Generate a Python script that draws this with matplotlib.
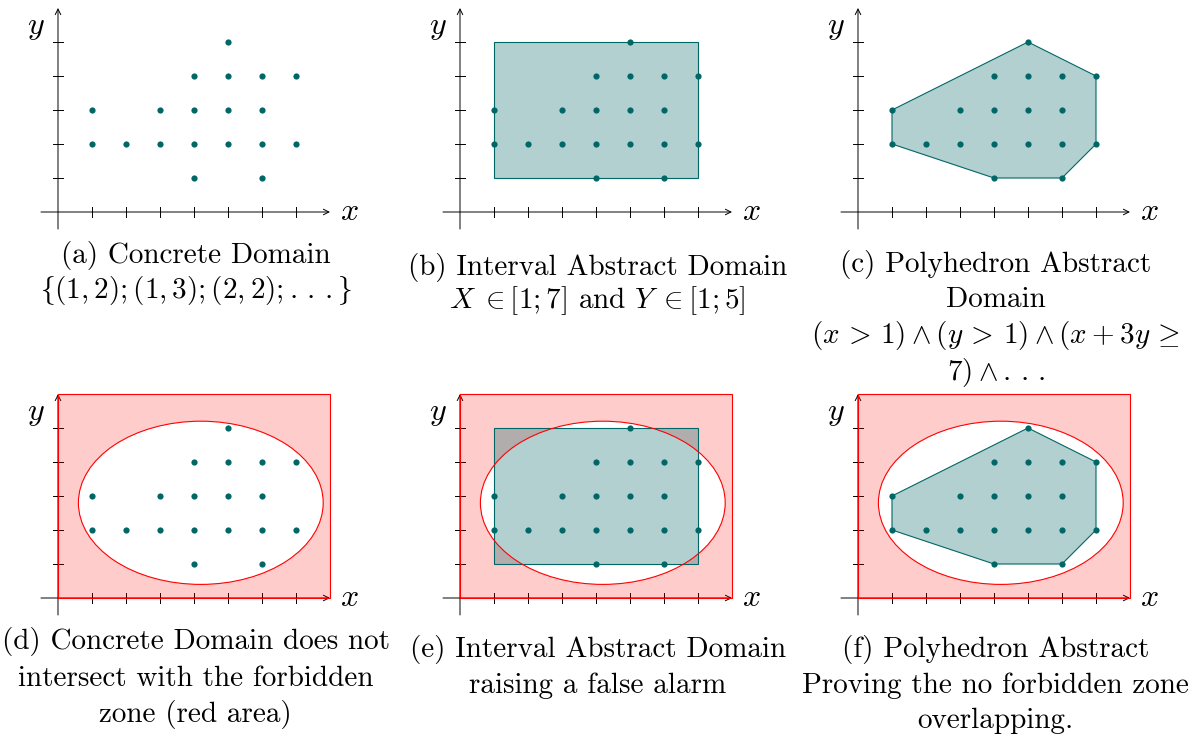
import matplotlib
matplotlib.use('Agg')
import matplotlib.pyplot as plt
from matplotlib.patches import Rectangle, Ellipse, Polygon

plt.rcParams['font.family'] = 'serif'
plt.rcParams['font.serif'] = ['cmr10']
plt.rcParams['mathtext.fontset'] = 'cm'
plt.rcParams['axes.unicode_minus'] = False

# concrete points
pts_x = [1, 2, 3, 4, 5, 6, 7, 1, 3, 4, 5, 6, 4, 5, 6, 7, 5, 4, 6]
pts_y = [2, 2, 2, 2, 2, 2, 2, 3, 3, 3, 3, 3, 4, 4, 4, 4, 5, 1, 1]

# interval domain X in [1;7], Y in [1;5]
box_x = [1, 7]
box_y = [1, 5]

# polyhedron vertices
poly_x = [1, 5, 7, 7, 6, 4, 1]
poly_y = [3, 5, 4, 2, 1, 1, 2]

# forbidden zone: rectangle minus ellipse
zone_x = [0, 8]
zone_y = [0, 6]
ell_center = (4.2, 2.8)
ell_size = (7.2, 4.8)

captions = {
    'a': ['(a) Concrete Domain', r'$\lbrace(1,2);(1,3);(2,2);.\,.\,.\rbrace$'],
    'b': ['(b) Interval Abstract Domain', r'$X\;\in[1;7]$ and $Y\;\in[1;5]$'],
    'c': ['(c) Polyhedron Abstract', 'Domain',
          r'$(x\,>\,1) \wedge (y\,>\,1) \wedge (x + 3y\,\geq$', r'$7) \wedge .\,.\,.$'],
    'd': ['(d) Concrete Domain does not', 'intersect with the forbidden', 'zone (red area)'],
    'e': ['(e) Interval Abstract Domain', 'raising a false alarm'],
    'f': ['(f) Polyhedron Abstract', 'Proving the no forbidden zone', 'overlapping.'],
}
baselines = {'a': [263, 298], 'b': [275, 308], 'c': [272, 307, 343, 380],
             'd': [649, 686, 722], 'e': [657, 693], 'f': [657, 693, 728]}
origins = {'a': (58, 212), 'b': (460, 212), 'c': (858, 212),
           'd': (58, 598), 'e': (460, 598), 'f': (858, 598)}

W, H = 1192, 738
S = 34.0
TEAL = '#006666'
FS = 21

fig = plt.figure(figsize=(W / 100, H / 100), dpi=100)

def make_axes(key):
    ox, oy = origins[key]
    x0, x1, y0, y1 = -1.0, 9.0, -1.0, 6.5
    ax = fig.add_axes([(ox + x0 * S) / W, 1 - (oy - y0 * S) / H,
                       (x1 - x0) * S / W, (y1 - y0) * S / H])
    ax.set_xlim(x0, x1)
    ax.set_ylim(y0, y1)
    ax.axis('off')
    ax.patch.set_alpha(0)
    # axes with ticks
    ax.annotate('', xy=(8.0, 0), xytext=(-0.5, 0),
                arrowprops=dict(arrowstyle='->', lw=0.7, color='black',
                                shrinkA=0, shrinkB=0))
    ax.annotate('', xy=(0, 6.0), xytext=(0, -0.5),
                arrowprops=dict(arrowstyle='->', lw=0.7, color='black',
                                shrinkA=0, shrinkB=0))
    for i in range(1, 8):
        ax.plot([i, i], [-0.15, 0.15], color='black', lw=0.7)
    for j in range(1, 6):
        ax.plot([-0.15, 0.15], [j, j], color='black', lw=0.7)
    ax.text(8.3, 0, '$x$', fontsize=FS + 2, ha='left', va='center')
    ax.text(-0.4, 5.4, '$y$', fontsize=FS + 2, ha='right', va='center')
    for line, b in zip(captions[key], baselines[key]):
        ax.text(4.05, (oy - b) / S, line, fontsize=FS, ha='center',
                va='baseline', clip_on=False)
    return ax

def forbidden(ax):
    ax.add_patch(Rectangle((zone_x[0], zone_y[0]), zone_x[1] - zone_x[0],
                           zone_y[1] - zone_y[0], facecolor=(1, 0, 0, 0.2),
                           edgecolor='red', lw=0.8, zorder=3))
    ax.add_patch(Ellipse(ell_center, ell_size[0], ell_size[1],
                         facecolor='white', edgecolor='none', zorder=4))

def ellipse_edge(ax):
    ax.add_patch(Ellipse(ell_center, ell_size[0], ell_size[1],
                         facecolor='none', edgecolor='red', lw=0.8, zorder=6))

def interval(ax):
    ax.add_patch(Rectangle((box_x[0], box_y[0]), box_x[1] - box_x[0],
                           box_y[1] - box_y[0], facecolor=TEAL, alpha=0.3,
                           edgecolor='none', zorder=5))
    ax.add_patch(Rectangle((box_x[0], box_y[0]), box_x[1] - box_x[0],
                           box_y[1] - box_y[0], facecolor='none',
                           edgecolor=TEAL, lw=0.8, zorder=5))

def polyhedron(ax):
    verts = list(zip(poly_x, poly_y))
    ax.add_patch(Polygon(verts, closed=True, facecolor=TEAL, alpha=0.3,
                         edgecolor='none', zorder=5))
    ax.add_patch(Polygon(verts, closed=True, facecolor='none',
                         edgecolor=TEAL, lw=0.8, zorder=5))

def points(ax):
    ax.scatter(pts_x, pts_y, s=20, color=TEAL, linewidths=0, zorder=7)

ax = make_axes('a')
points(ax)

ax = make_axes('b')
interval(ax)
points(ax)

ax = make_axes('c')
polyhedron(ax)
points(ax)

ax = make_axes('d')
forbidden(ax)
ellipse_edge(ax)
points(ax)

ax = make_axes('e')
forbidden(ax)
interval(ax)
ellipse_edge(ax)
points(ax)

ax = make_axes('f')
forbidden(ax)
polyhedron(ax)
ellipse_edge(ax)
points(ax)

fig.savefig('out.png', dpi=100)
